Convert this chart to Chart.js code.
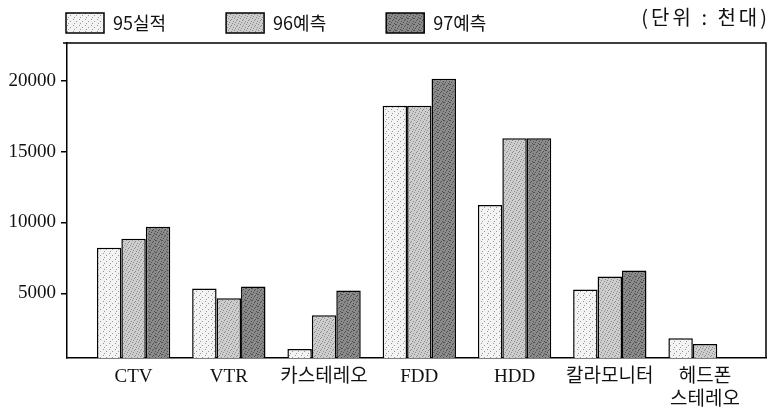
<!DOCTYPE html>
<html>
<head>
<meta charset="utf-8">
<script src="https://cdn.jsdelivr.net/npm/chart.js@4/dist/chart.umd.min.js"></script>
<style>
    html, body { margin: 0; padding: 0; background: #fff; }
    #wrap { width: 770px; height: 409px; }
</style>
</head>
<body>
<div id="wrap"><canvas id="chart"></canvas></div>
<script>
// 데이터 (단위: 천대)
const categories = ['CTV', 'VTR', '카스테레오', 'FDD', 'HDD', '칼라모니터', ['헤드폰', '스테레오']];
const seriesNames = ['95실적', '96예측', '97예측'];
const values95 = [8220, 5350, 1070, 18240, 11240, 5280, 1840];
const values96 = [8850, 4650, 3460, 18240, 15940, 6190, 1420];
const values97 = [9690, 5490, 5210, 20140, 15940, 6610, null];
const yTicks = [5000, 10000, 15000, 20000];
const unitText = '(단위 : 천대)';

const SERIF = "'Liberation Serif', 'Noto Sans CJK KR', serif";
const SANS = "'Noto Sans CJK KR', 'Noto Sans', sans-serif";

// 인쇄 망점 느낌의 패턴 (고정 배치)
function stipple(base, dot, dots) {
    const c = document.createElement('canvas');
    c.width = 6; c.height = 6;
    const g = c.getContext('2d');
    g.fillStyle = base;
    g.fillRect(0, 0, 6, 6);
    g.fillStyle = dot;
    dots.forEach(([x, y]) => g.fillRect(x, y, 1, 1));
    return g.createPattern(c, 'repeat');
}
const fill95 = stipple('#f3f3f3', '#9a9a9a', [[1, 1], [4, 3], [2, 5]]);
const fill96 = stipple('#cdcdcd', '#8c8c8c', [[0, 0], [3, 1], [5, 3], [1, 4], [4, 5], [2, 2]]);
const fill97 = stipple('#8a8a8a', '#505050', [[0, 0], [3, 1], [5, 3], [1, 4], [4, 5], [2, 2], [5, 0]]);

const toPoints = arr => arr.map((v, i) => ({ x: i, y: v }));

// 위/오른쪽 테두리와 단위 표시
const frame = {
    id: 'frame',
    afterDraw(chart) {
        const { ctx, chartArea: a } = chart;
        ctx.save();
        ctx.strokeStyle = '#000';
        ctx.lineWidth = 1.5;
        ctx.beginPath();
        ctx.moveTo(a.left - 4, a.top);
        ctx.lineTo(a.right, a.top);
        ctx.lineTo(a.right, a.bottom);
        ctx.stroke();
        ctx.fillStyle = '#111';
        ctx.font = '20px ' + SANS;
        ctx.letterSpacing = '3px';
        ctx.textAlign = 'right';
        ctx.textBaseline = 'middle';
        ctx.fillText(unitText, 770, 17);
        ctx.restore();
    }
};

const bar = (label, data, fill) => ({
    label: label,
    data: toPoints(data),
    backgroundColor: fill,
    borderColor: '#000',
    borderWidth: 1.5,
    borderSkipped: 'bottom',
    categoryPercentage: 0.77,
    barPercentage: 1.0
});

new Chart(document.getElementById('chart'), {
    type: 'bar',
    data: {
        datasets: [
            bar(seriesNames[0], values95, fill95),
            bar(seriesNames[1], values96, fill96),
            bar(seriesNames[2], values97, fill97)
        ]
    },
    options: {
        responsive: true,
        maintainAspectRatio: false,
        animation: false,
        layout: { padding: { left: 6, right: 4, top: -47, bottom: 0 } },
        plugins: {
            tooltip: { enabled: false },
            legend: {
                position: 'top',
                align: 'start',
                labels: {
                    color: '#111',
                    font: { family: SANS, size: 18 },
                    boxWidth: 38,
                    boxHeight: 20,
                    padding: 60
                }
            }
        },
        scales: {
            x: {
                type: 'linear',
                min: -0.699,
                max: 6.64,
                offset: false,
                afterBuildTicks: axis => { axis.ticks = categories.map((c, i) => ({ value: i })); },
                afterFit: axis => { axis.height = 51; },
                grid: { display: false, drawTicks: false },
                border: { display: true, color: '#000', width: 1.5 },
                ticks: {
                    color: '#111',
                    font: { family: SERIF, size: 19 },
                    padding: 8,
                    maxRotation: 0,
                    autoSkip: false,
                    callback: v => categories[v]
                }
            },
            y: {
                min: 440,
                max: 22660,
                afterBuildTicks: axis => { axis.ticks = yTicks.map(v => ({ value: v })); },
                afterFit: axis => { axis.width = 61; },
                grid: { display: true, drawOnChartArea: false, drawTicks: true, tickLength: 6, color: '#000', lineWidth: 1.5 },
                border: { display: true, color: '#000', width: 1.5 },
                ticks: {
                    color: '#111',
                    font: { family: SERIF, size: 19 },
                    padding: 5,
                    callback: v => String(v)
                }
            }
        }
    },
    plugins: [frame]
});
</script>
</body>
</html>
